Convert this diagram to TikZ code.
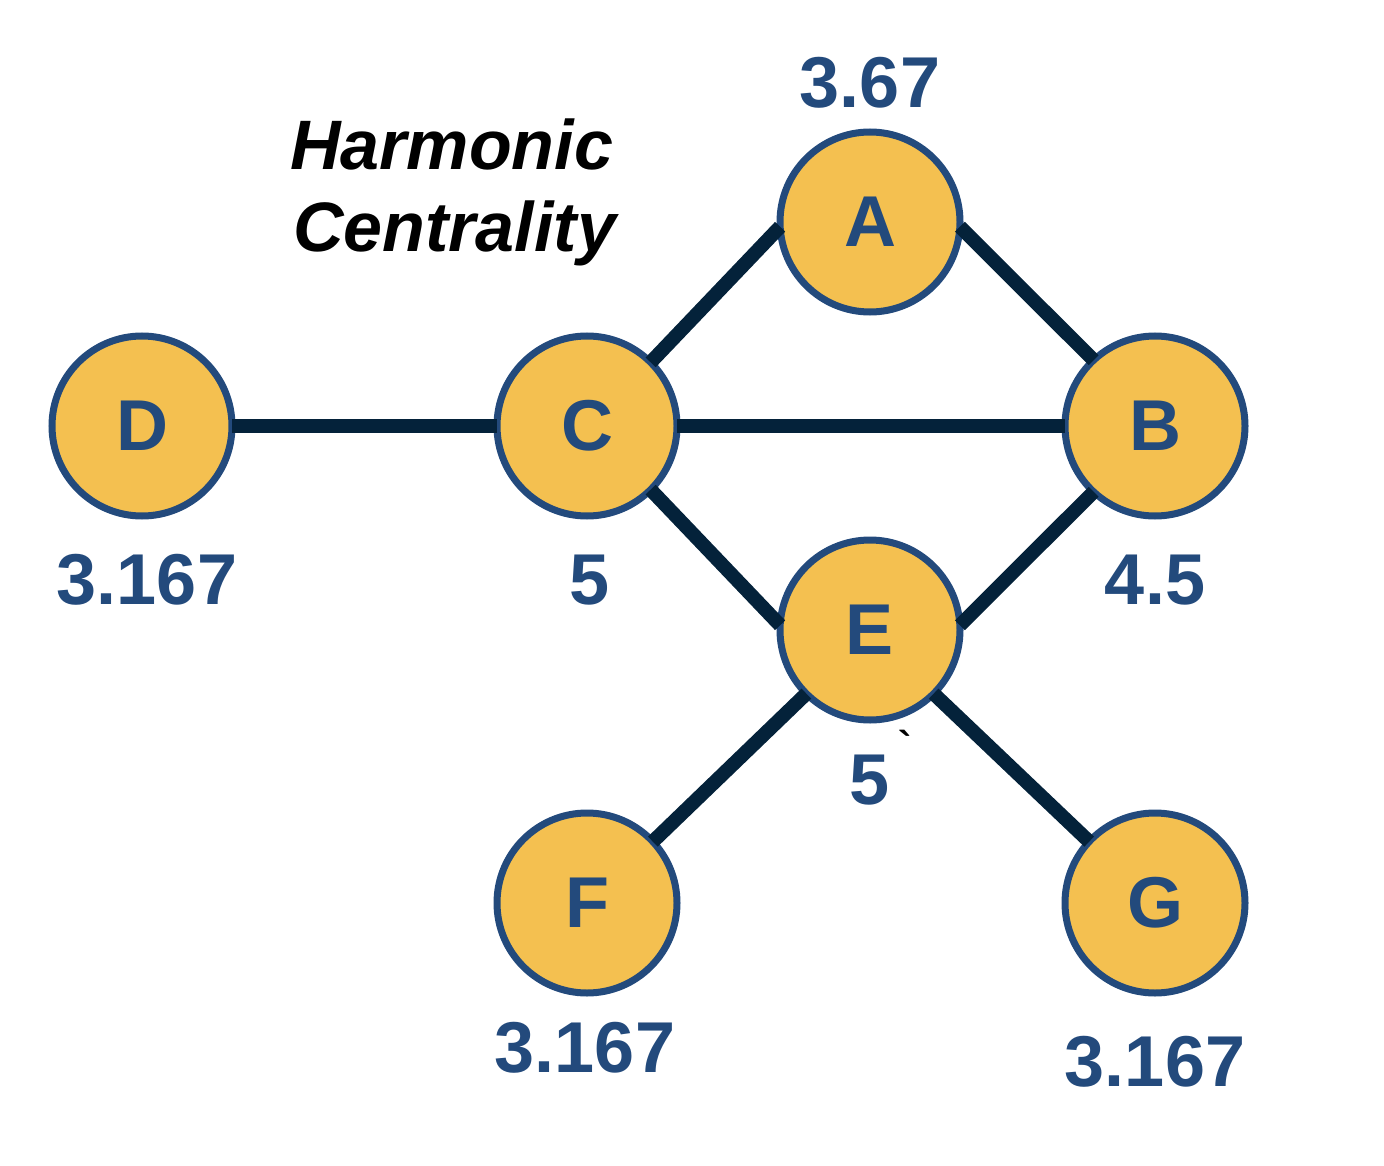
\documentclass[tikz,border=0pt]{standalone}
\usepackage{fontspec}
\setmainfont{Liberation Sans}
\newfontfamily\gravefont{Liberation Sans}
\definecolor{nodefill}{HTML}{F4C050}
\definecolor{nodeblue}{HTML}{234A7C}
\definecolor{edgecol}{HTML}{04223A}
\begin{document}
\begin{tikzpicture}[x=1pt,y=-1pt,
  vertex/.style={circle, draw=nodeblue, fill=nodefill, line width=7pt,
    minimum size=180pt, inner sep=0pt, outer sep=0pt, text=nodeblue,
    font=\fontsize{72}{80}\selectfont\bfseries},
  score/.style={text=nodeblue, inner sep=0pt,
    font=\fontsize{72}{80}\selectfont\bfseries},
  titletext/.style={anchor=base west, inner sep=0pt, text=black,
    font=\fontsize{70}{80}\selectfont\bfseries\itshape},
  link/.style={draw=edgecol, line width=14pt}]
\useasboundingbox (0,0) rectangle (1384,1166);
% nodes
\node[vertex] (A) at (870,222) {A};
\node[vertex] (B) at (1155,426) {B};
\node[vertex] (C) at (587,426) {C};
\node[vertex] (D) at (142,426) {D};
\node[vertex] (E) at (870,630) {E};
\node[vertex] (F) at (587,903) {F};
\node[vertex] (G) at (1155,903) {G};
% edges
\draw[link] (D.east) -- (C.west);
\draw[link] (C.east) -- (B.west);
\draw[link] (C.45) -- (A.183);
\draw[link] (A.-3) -- (B.133);
\draw[link] (C.-45) -- (E.177);
\draw[link] (B.-133) -- (E.3);
\draw[link] (E.-135) -- (F.43);
\draw[link] (E.-45) -- (G.137);
% scores
\node[score] (sA) at (870,83) {3.67};
\node[score] (sD) at (147,580) {3.167};
\node[score] (sC) at (590,580) {5};
\node[score] (sB) at (1155,580) {4.5};
\node[score] (sE) at (870,780) {5};
\node[score] (sF) at (585,1048) {3.167};
\node[score] (sG) at (1155,1062) {3.167};
\node[inner sep=0pt, anchor=north, font=\gravefont\fontsize{40}{40}\selectfont\bfseries] (tick) at (905,730) {`};
% title
\node[titletext] (t1) at (290,170) {Harmonic};
\node[titletext] (t2) at (293,252) {Centrality};
\end{tikzpicture}
\end{document}
